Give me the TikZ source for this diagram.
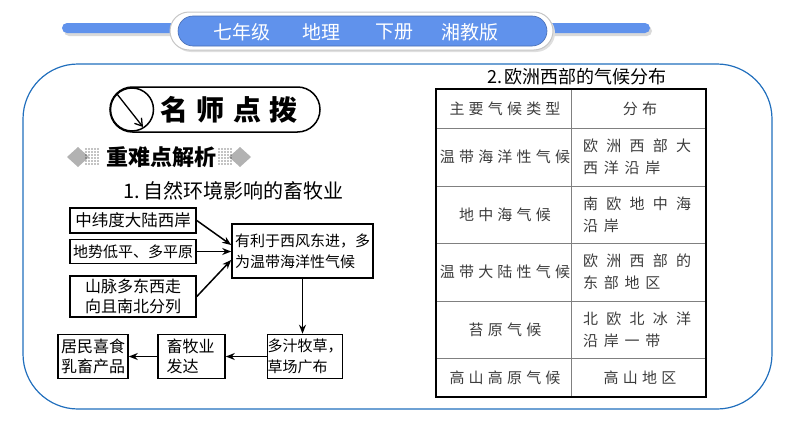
\documentclass[tikz,border=0pt]{standalone}
\usepackage{fontspec}
\setmainfont{Noto Sans CJK SC}
\usetikzlibrary{arrows.meta, positioning}
\definecolor{headblue}{RGB}{96,146,236}
\definecolor{framecolor}{RGB}{33,111,189}
\definecolor{tabtext}{RGB}{60,60,60}
\newcommand{\fsz}[2]{\fontsize{#1pt}{#2pt}\selectfont}
\newcommand{\tabwide}[1]{{\addfontfeature{LetterSpace=55}#1}}
\newcommand{\tabnarrow}[1]{{\addfontfeature{LetterSpace=38}#1}}
\tikzset{
  fbox/.style   = {draw, line width=1.6pt, inner sep=1pt, align=left, font=\fsz{16}{20}},
  arr/.style    = {-{Stealth[length=9pt,width=7pt]}, line width=1.5pt},
  tabtxt/.style = {inner sep=0pt, text=tabtext, align=left,
                   font=\fsz{15}{22}\addfontfeature{LetterSpace=28}},
  tabline/.style  = {draw=black!50, line width=0.8pt},
  tabframe/.style = {draw=black, line width=1.5pt},
}
\begin{document}
\begin{tikzpicture}[x=1pt, y=-1pt]
  \useasboundingbox (0,0) rectangle (794,447);
  % header
  \fill[gray!30, rounded corners=5pt] (64,26) rectangle (652,36);
  \fill[headblue, rounded corners=5pt] (62,23) rectangle (650,33);
  \fill[gray!25, rounded corners=19pt] (172,14) rectangle (555,52);
  \filldraw[fill=white, draw=gray!45, line width=1pt, rounded corners=19pt] (170,12) rectangle (553,50);
  \filldraw[fill=headblue, draw=headblue!75!black, line width=0.6pt, rounded corners=15pt] (178,16) rectangle (547,46);
  \foreach \t/\x [count=\i] in {七年级/241.5, 地理/321, 下册/394, 湘教版/470}
    \node[text=white, font=\fsz{19}{22}] (head\i) at (\x,32) {\t};
  % frame
  \draw[framecolor, line width=1.2pt, rounded corners=55pt] (23,64) rectangle (772,409);

  % title capsule
  \draw[line width=1.5pt, rounded corners=22.5pt] (110,87) rectangle (320,132);
  \draw[line width=1.5pt] (132,109.5) circle (21.5pt);
  \draw[line width=1.3pt, -{Straight Barb[length=7pt,width=9pt]}] (117,94) -- (143,127);
  \foreach \c [count=\i] in {名,师,点,拨}
    \node[font=\fsz{28}{30}\bfseries] (tip\i) at ({174.5+(\i-1)*36.3},110) {\c};

  % sub title
  \fill[gray!60] (67,157) -- (78,147) -- (89,157) -- (78,167) -- cycle;
  \fill[gray!60] (229,157) -- (240,147) -- (251,157) -- (240,167) -- cycle;
  \foreach \i in {0,...,4}
    \foreach \j in {0,...,5} {
      \fill (86+\i*3, 149+\j*3) circle (0.7pt);
      \fill (219+\i*3, 149+\j*3) circle (0.7pt);
    }
  \node[font=\fsz{22}{24}\bfseries] (sub) at (161,157) {重难点解析};
  \node[font=\fsz{20}{22}] (part1) at (233.5,191) {1.\,自然环境影响的畜牧业};

  % flow chart
  \node[fbox, minimum width=126pt, minimum height=25pt, font=\fsz{16.5}{20}] (west) at (133,220.5) {中纬度大陆西岸};
  \node[fbox, minimum width=126pt, minimum height=24pt, font=\fsz{15}{20}] (plain) at (133,251.5) {地势低平、多平原};
  \node[fbox, minimum width=126pt, minimum height=41pt, align=center] (mount) at (133,296.5) {山脉多东西走\\向且南北分列};
  \node[fbox, minimum width=141pt, minimum height=54pt, font=\fsz{15}{21}] (climate) at (302.5,251) {有利于西风东进，多\\为温带海洋性气候};
  \node[fbox, minimum width=74pt, minimum height=44pt, inner sep=0pt, font=\fsz{15}{21}] (grass) at (305,356.5) {多汁牧草，\\草场广布};
  \node[fbox, minimum width=67pt, minimum height=44pt, text width=50pt] (herd) at (191.5,356.5) {畜牧业\\发达};
  \node[fbox, minimum width=70pt, minimum height=44pt, inner sep=0pt] (diet) at (93,356.5) {居民喜食\\乳畜产品};

  \draw[arr] (west.east) -- ([yshift=6pt]climate.west);
  \draw[arr] (plain.east) -- (plain.east -| climate.west);
  \draw[arr] (mount.east) -- ([yshift=-9pt]climate.west);
  \draw[arr] (climate.south) -- (climate.south |- grass.north);
  \draw[arr] (grass.west) -- (herd.east);
  \draw[arr] (herd.west) -- (diet.east);

  % table
  \node[font=\fsz{18}{20}] (part2) at (577,77) {2.\,欧洲西部的气候分布};
  \foreach \y in {128,186,243,301,358}
    \draw[tabline] (436,\y) -- (706,\y);
  \draw[tabline] (571,89) -- (571,397);
  \draw[tabframe] (436,89) rectangle (706,397);

  \node[tabtxt] (h1) at (505,108.5) {主要气候类型};
  \node[tabtxt] (h2) at (640,108.5) {分布};
  \node[tabtxt] (c1) at (505,157) {温带海洋性气候};
  \node[tabtxt, anchor=west] (d1) at (583,157) {\tabwide{欧洲西部大}\\\tabnarrow{西洋沿岸}};
  \node[tabtxt] (c2) at (505,214.5) {地中海气候};
  \node[tabtxt, anchor=west] (d2) at (583,214.5) {\tabwide{南欧地中海}\\\tabnarrow{沿岸}};
  \node[tabtxt] (c3) at (505,272) {温带大陆性气候};
  \node[tabtxt, anchor=west] (d3) at (583,272) {\tabwide{欧洲西部的}\\\tabnarrow{东部地区}};
  \node[tabtxt] (c4) at (505,329.5) {苔原气候};
  \node[tabtxt, anchor=west] (d4) at (583,329.5) {\tabwide{北欧北冰洋}\\\tabnarrow{沿岸一带}};
  \node[tabtxt] (c5) at (505,377.5) {高山高原气候};
  \node[tabtxt] (d5) at (640,377.5) {高山地区};
\end{tikzpicture}
\end{document}
